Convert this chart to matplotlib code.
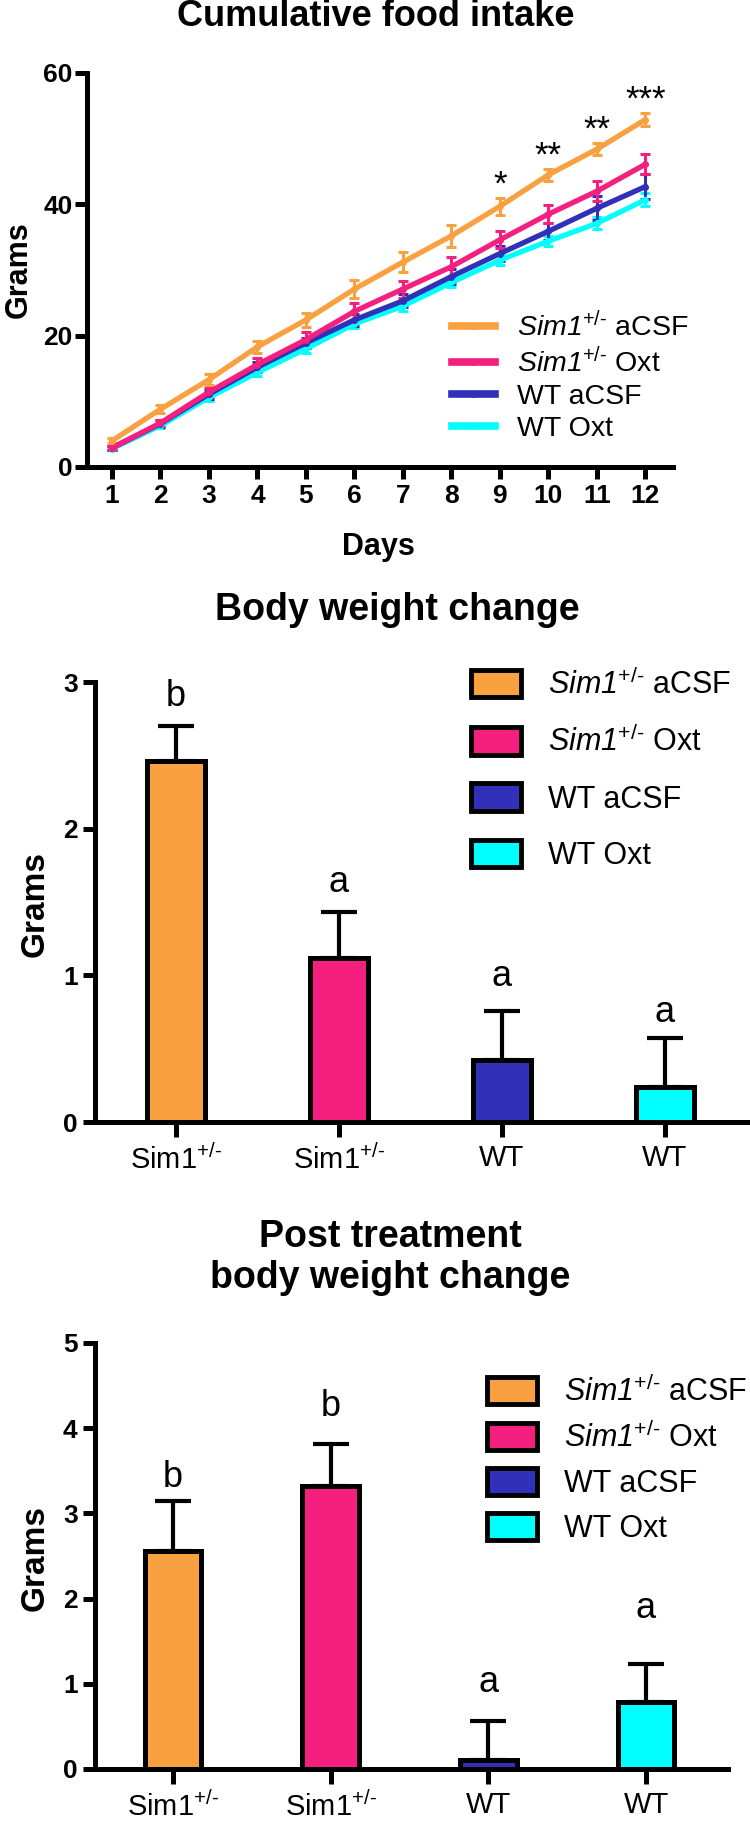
import matplotlib
matplotlib.use('Agg')
import matplotlib.pyplot as plt
from matplotlib.lines import Line2D
from matplotlib.patches import Patch
import numpy as np

plt.rcParams['font.family'] = 'Liberation Sans'
plt.rcParams['mathtext.fontset'] = 'custom'
plt.rcParams['mathtext.rm'] = 'Liberation Sans'
plt.rcParams['mathtext.it'] = 'Liberation Sans:italic'
# sf used for the italic gene name so the digit stays italic too
plt.rcParams['mathtext.sf'] = 'Liberation Sans:italic'
plt.rcParams['mathtext.bf'] = 'Liberation Sans:bold'

# ---- data ----
days = np.arange(1, 13)
sim_acsf = [4.0, 8.8, 13.3, 18.3, 22.4, 27.1, 31.2, 35.2, 39.7, 44.5, 48.4, 52.9]
sim_acsf_err = [0.4, 0.6, 0.8, 0.9, 1.1, 1.4, 1.5, 1.7, 1.3, 0.9, 0.9, 1.0]
sim_oxt = [2.9, 6.7, 11.4, 15.6, 19.4, 23.7, 27.1, 30.5, 34.6, 38.5, 42.0, 46.1]
sim_oxt_err = [0.3, 0.5, 0.7, 1.0, 1.2, 1.3, 1.3, 1.5, 1.3, 1.4, 1.5, 1.5]
wt_acsf = [2.9, 6.6, 11.1, 15.2, 18.9, 22.4, 25.3, 29.0, 32.5, 35.9, 39.4, 42.7]
wt_acsf_err = [0.3, 0.5, 0.7, 0.8, 0.8, 0.9, 1.0, 1.1, 1.2, 1.3, 1.8, 1.9]
wt_oxt = [2.8, 6.3, 10.6, 14.4, 18.0, 21.8, 24.5, 28.1, 31.5, 34.4, 37.1, 40.7]
wt_oxt_err = [0.2, 0.4, 0.5, 0.6, 0.6, 0.6, 0.7, 0.7, 0.8, 0.8, 0.9, 1.0]
star_days = [9, 10, 11, 12]
star_marks = ['*', '**', '**', '***']

group_labels = [r'$\mathsf{Sim1}^{\text{+/-}}$ aCSF', r'$\mathsf{Sim1}^{\text{+/-}}$ Oxt',
                'WT aCSF', 'WT Oxt']
bar_ticklabels = [r'Sim1$^{\text{+/-}}$', r'Sim1$^{\text{+/-}}$', 'WT', 'WT']

bw_change = [2.46, 1.12, 0.42, 0.24]
bw_err = [0.24, 0.31, 0.34, 0.33]
bw_letters = ['b', 'a', 'a', 'a']
bw_letter_y = [2.90, 1.63, 0.99, 0.75]

post_change = [2.56, 3.32, 0.11, 0.79]
post_err = [0.59, 0.50, 0.45, 0.44]
post_letters = ['b', 'b', 'a', 'a']
post_letter_y = [3.42, 4.26, 1.01, 1.88]

colors = ['#F9A040', '#F41F7F', '#3030B8', '#00FFFF']

W, H = 750, 1821
fig = plt.figure(figsize=(W / 100, H / 100), dpi=100)


def rect(l, t, r, b):
    # pixel box -> figure fraction
    return [l / W, 1 - b / H, (r - l) / W, (b - t) / H]


def style(ax):
    ax.spines['top'].set_visible(False)
    ax.spines['right'].set_visible(False)
    ax.spines['left'].set_linewidth(3.6)
    ax.spines['bottom'].set_linewidth(3.6)
    ax.tick_params(width=3.6, length=8.5, direction='out')
    ax.tick_params(axis='y', pad=2)
    for lab in ax.get_yticklabels():
        lab.set_fontweight('bold')
        lab.set_fontsize(19)


# ---- cumulative food intake ----
ax1 = fig.add_axes(rect(87, 73, 673, 467))
series = [(wt_oxt, wt_oxt_err, colors[3]), (wt_acsf, wt_acsf_err, colors[2]),
          (sim_oxt, sim_oxt_err, colors[1]), (sim_acsf, sim_acsf_err, colors[0])]
for y, e, c in series:
    ax1.errorbar(days, y, yerr=e, color=c, lw=3.8, marker='o', ms=4,
                 elinewidth=2.2, capsize=3.6, capthick=2.2)
for d, m in zip(star_days, star_marks):
    i = d - 1
    ax1.text(d, sim_acsf[i] + sim_acsf_err[i] + 2.0, m, ha='center', va='center',
             fontsize=25)
ax1.set_xlim(0.485, 12.57)
ax1.set_ylim(0, 60)
ax1.set_xticks(days)
ax1.set_yticks([0, 20, 40, 60])
style(ax1)
ax1.tick_params(axis='x', pad=4)
for lab in ax1.get_xticklabels():
    lab.set_fontweight('bold')
    lab.set_fontsize(19)
ax1.text(-0.116, 0.5, 'Grams', transform=ax1.transAxes, rotation=90,
         ha='center', va='center', fontsize=22, fontweight='bold')
ax1.text(0.497, -0.203, 'Days', transform=ax1.transAxes,
         ha='center', va='center', fontsize=22, fontweight='bold')
line_handles = [Line2D([], [], color=c, lw=5.5, marker='o', ms=4) for c in colors]
ax1.legend(line_handles, group_labels, loc='center left',
           bbox_to_anchor=(452 / W, 1 - 376.5 / H), bbox_transform=fig.transFigure,
           frameon=False, fontsize=20.5, handlelength=1.5, handletextpad=0.8,
           labelspacing=0.2, borderpad=0, borderaxespad=0)
fig.text(376 / W, 1 - 17 / H, 'Cumulative food intake', ha='center', va='center',
         fontsize=26, fontweight='bold')

# ---- bar panels ----
x = np.arange(4)


def bar_panel(box, vals, errs, letters, letter_y, ymax, xlim, leg_x, leg_y, spacing,
              ylab_x):
    ax = fig.add_axes(rect(*box))
    ax.bar(x, vals, width=0.36, color=colors, edgecolor='black', linewidth=3.6,
           zorder=3)
    ax.errorbar(x, vals, yerr=[np.zeros(4), errs], fmt='none', ecolor='black',
                elinewidth=3, capsize=13, capthick=3, zorder=2)
    for xi, l, ly in zip(x, letters, letter_y):
        ax.text(xi, ly, l, ha='center', va='center', fontsize=26)
    ax.set_xlim(*xlim)
    ax.set_ylim(0, ymax)
    ax.set_yticks(range(ymax + 1))
    ax.set_xticks(x)
    ax.set_xticklabels(bar_ticklabels, fontsize=21)
    style(ax)
    ax.tick_params(axis='x', length=11, pad=5)
    ax.tick_params(axis='y', pad=4)
    ax.text(ylab_x, 0.495, 'Grams', transform=ax.transAxes, rotation=90,
            ha='center', va='center', fontsize=24, fontweight='bold')
    handles = [Patch(facecolor=c, edgecolor='black', linewidth=3.5) for c in colors]
    ax.legend(handles, group_labels, loc='center left',
              bbox_to_anchor=(leg_x / W, 1 - leg_y / H), bbox_transform=fig.transFigure,
              frameon=False, fontsize=22, handlelength=1.63, handleheight=1.0,
              handletextpad=0.88, labelspacing=spacing, borderpad=0, borderaxespad=0)
    return ax


bar_panel((95, 682, 748, 1122), bw_change, bw_err, bw_letters, bw_letter_y, 3,
          (-0.497, 3.51), 471, 770, 0.82, -0.092)
fig.text(397 / W, 1 - 610 / H, 'Body weight change', ha='center', va='center',
         fontsize=27, fontweight='bold')

bar_panel((95, 1343, 728, 1769), post_change, post_err, post_letters, post_letter_y, 5,
          (-0.495, 3.52), 487, 1460, 0.46, -0.095)
fig.text(390 / W, 1 - 1257.5 / H, 'Post treatment\nbody weight change', ha='center',
         va='center', fontsize=27, fontweight='bold', linespacing=1.15)

fig.savefig('out.png', dpi=100)
